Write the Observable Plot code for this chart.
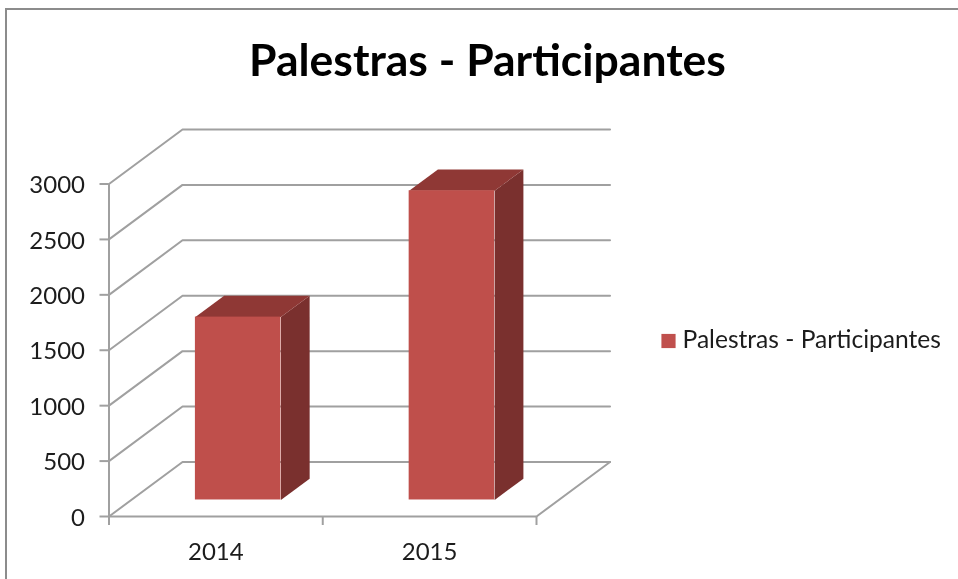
<!DOCTYPE html>
<html>
<head>
<meta charset="utf-8">
<script src="https://cdn.jsdelivr.net/npm/d3@7"></script>
<script src="https://cdn.jsdelivr.net/npm/@observablehq/plot@0.6"></script>
<style>
  html, body { margin: 0; padding: 0; background: #fff; }
  #page { position: relative; width: 958px; height: 579px; overflow: hidden; }
  #border { position: absolute; left: 5px; top: 8px; width: 1000px; height: 700px;
            border-left: 2.5px solid #8c8c8c; border-top: 2.5px solid #8c8c8c; filter: blur(0.4px); }
  #chart { position: absolute; left: 0; top: 0; filter: blur(0.45px); }
  #chart svg { background: transparent; display: block; }
</style>
</head>
<body>
<div id="page"><div id="border"></div><div id="chart"></div></div>
<script>
const categories = ["2014", "2015"];
const participantes = [1650, 2790];
const yTicks = [0, 500, 1000, 1500, 2000, 2500, 3000];
const seriesName = "Palestras - Participantes";
const chartTitle = "Palestras - Participantes";

// Oblique 3D projection, in data units: depth 0 = front, depth 1 = back wall
const depthX = 0.344, depthY = 492;
const barX0 = 0.3, barX1 = 0.7, barD0 = 0.303, barD1 = 0.694;
const xMax = categories.length;
const P = (x, y, d, key) => ({x: x + d * depthX, y: y + d * depthY, key});

const wallLines = yTicks.flatMap(t => [P(0, t, 0, t), P(0, t, 1, t), P(xMax, t, 1, t)]);
const floorEdge = [P(xMax, 0, 0), P(xMax, 0, 1)];

const bars = categories.map((c, i) => ({i, c, v: participantes[i]}));
const face = (b, pts) => pts.map(([x, y, d]) => P(b.i + x, y, d, b.c));
const frontFaces = bars.map(b => ({
  x1: b.i + barX0 + barD0 * depthX, x2: b.i + barX1 + barD0 * depthX,
  y1: barD0 * depthY, y2: b.v + barD0 * depthY
}));
const sideFaces = bars.flatMap(b => face(b, [[barX1, 0, barD0], [barX1, 0, barD1], [barX1, b.v, barD1], [barX1, b.v, barD0]]));
const topFaces = bars.flatMap(b => face(b, [[barX0, b.v, barD0], [barX1, b.v, barD0], [barX1, b.v, barD1], [barX0, b.v, barD1]]));

const gray = "#a0a0a0", sw = 2;
const textColor = "#1c1c1c", font = "Lato, 'Open Sans', sans-serif";

const chart = Plot.plot({
  width: 958, height: 579,
  marginLeft: 108.5, marginRight: 422, marginTop: 183.5, marginBottom: 63,
  x: {domain: [0, xMax], axis: null},
  y: {domain: [0, 3000], axis: null},
  style: {background: "transparent", fontFamily: font},
  marks: [
    Plot.line(wallLines, {x: "x", y: "y", z: "key", stroke: gray, strokeWidth: sw}),
    Plot.line(floorEdge, {x: "x", y: "y", stroke: gray, strokeWidth: sw}),
    Plot.ruleX([0], {y1: 0, y2: 3000, stroke: gray, strokeWidth: sw}),
    Plot.ruleY([0], {x1: 0, x2: xMax, stroke: gray, strokeWidth: sw}),
    Plot.axisY({ticks: yTicks, anchor: "left", label: null, tickSize: 9, tickFormat: () => "",
      stroke: gray, strokeWidth: sw}),
    Plot.axisY({ticks: yTicks, anchor: "left", label: null, tickSize: 0, tickPadding: 24, dy: 1.5,
      tickFormat: "d", fill: textColor, fontSize: 24, fontFamily: font}),
    Plot.axisX({ticks: [0, 1, 2], anchor: "bottom", label: null, tickSize: 9, tickFormat: () => "",
      stroke: gray, strokeWidth: sw}),
    Plot.axisX({ticks: categories.map((c, i) => i + 0.5), anchor: "bottom", label: null, tickSize: 0, tickPadding: 26,
      tickFormat: t => categories[Math.floor(t)], fill: textColor, fontSize: 24, fontFamily: font}),
    Plot.line(sideFaces, {x: "x", y: "y", z: "key", fill: "#7a302e", stroke: null}),
    Plot.line(topFaces, {x: "x", y: "y", z: "key", fill: "#8f3835", stroke: null}),
    Plot.rect(frontFaces, {x1: "x1", x2: "x2", y1: "y1", y2: "y2", fill: "#bf4f4b"}),
    Plot.text([chartTitle], {frameAnchor: "top-left", dx: 378.5, dy: -122.5, text: d => d, textAnchor: "middle",
      lineAnchor: "middle", fontSize: 44.5, fontWeight: "bold", fill: "#000", fontFamily: font}),
    Plot.text([seriesName], {frameAnchor: "top-left", dx: 573.5, dy: 156.5, text: d => d, textAnchor: "start",
      lineAnchor: "middle", fontSize: 24.6, fill: textColor, fontFamily: font}),
    Plot.dot([seriesName], {frameAnchor: "top-left", dx: 559.5, dy: 157, symbol: "square", r: 8, fill: "#c0504d"})
  ]
});
document.getElementById("chart").append(chart);
</script>
</body>
</html>
